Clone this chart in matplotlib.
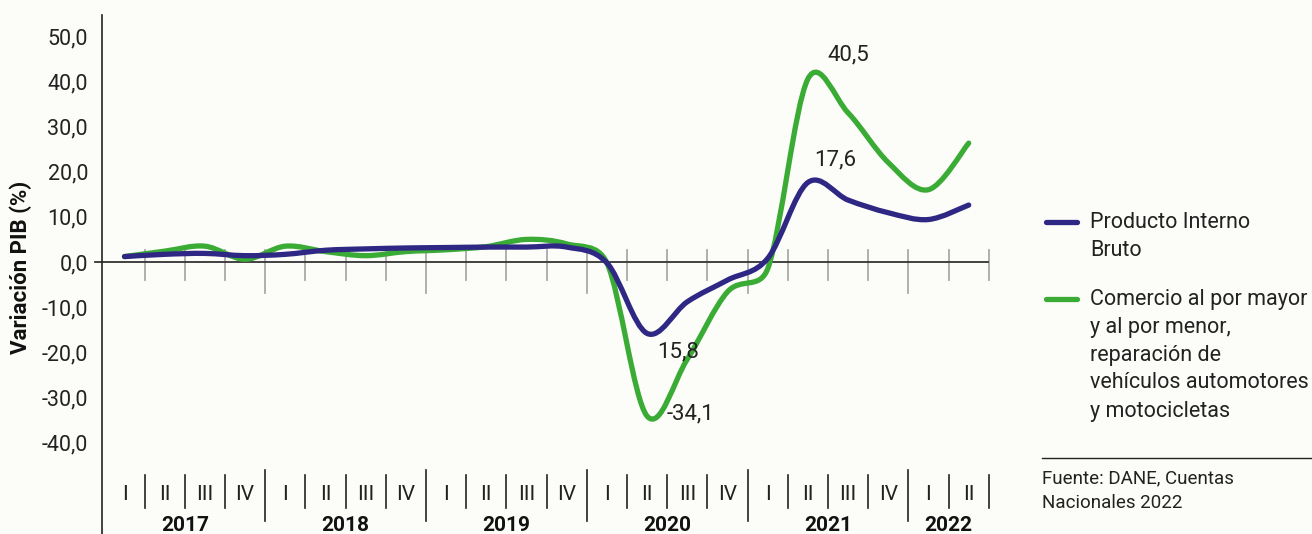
import numpy as np
import matplotlib.pyplot as plt
from matplotlib.path import Path
from matplotlib.patches import PathPatch
from matplotlib.lines import Line2D

plt.rcParams['font.family'] = ['Roboto', 'DejaVu Sans']

# --- DATOS ---
trimestres = ['I', 'II', 'III', 'IV'] * 5 + ['I', 'II']
anios = ['2017', '2018', '2019', '2020', '2021', '2022']
trim_por_anio = [4, 4, 4, 4, 4, 2]

# Variación anual (%) - Producto Interno Bruto
pib = [1.2, 1.7, 1.9, 1.4, 1.7, 2.6, 2.9, 3.1, 3.2, 3.3, 3.3, 3.3,
       -0.2, -15.8, -8.8, -4.0, 0.8, 17.6, 13.7, 10.9, 9.4, 12.6]
# Variación anual (%) - Comercio, reparación de vehículos
comercio = [1.2, 2.4, 3.5, 0.6, 3.5, 2.3, 1.4, 2.3, 2.7, 3.4, 5.0, 4.0,
            -0.2, -34.1, -21.5, -6.6, -1.5, 40.5, 33.0, 22.0, 16.0, 26.3]

etiquetas = [  # (serie, indice, texto, offset en puntos)
    ('comercio', 17, '40,5', (29, 17)),
    ('pib', 17, '17,6', (20, 16)),
    ('pib', 13, '15,8', (22, -13.5)),
    ('comercio', 13, '-34,1', (31, 1.5)),
]

AZUL = '#2e2784'
VERDE = '#3aab35'
FONDO = '#fcfcf8'
W, H = 1312, 534


def fx(px):
    return px / W


def fy(py):
    return 1 - py / H


def curva_suave(ax, x, y, color, lw, z):
    # linea suavizada al estilo Excel: Bezier con brazos (P2-P0)/6,
    # limitados a la mitad del segmento (medido en pixeles)
    pts = np.column_stack([x, y]).astype(float)
    ext = np.vstack([pts[0], pts, pts[-1]])
    disp = ax.transData.transform(ext)
    verts = [pts[0]]
    codes = [Path.MOVETO]
    for i in range(1, len(ext) - 2):
        p0, p1, p2, p3 = ext[i - 1], ext[i], ext[i + 1], ext[i + 2]
        d0, d1, d2, d3 = disp[i - 1], disp[i], disp[i + 1], disp[i + 2]
        d12 = np.hypot(*(d2 - d1))
        d02 = np.hypot(*(d2 - d0))
        d13 = np.hypot(*(d3 - d1))
        f1 = 1 / 6 if d02 / 6 < d12 / 2 else d12 / (2 * d02)
        f2 = 1 / 6 if d13 / 6 < d12 / 2 else d12 / (2 * d13)
        verts += [p1 + (p2 - p0) * f1, p2 - (p3 - p1) * f2, p2]
        codes += [Path.CURVE4] * 3
    ax.add_patch(PathPatch(Path(verts, codes), fill=False, edgecolor=color,
                           lw=lw, capstyle='round', joinstyle='round', zorder=z))


fig = plt.figure(figsize=(W / 100, H / 100), dpi=100, facecolor=FONDO)
ax = fig.add_axes([fx(102), 0, fx(990) - fx(102), fy(15)])
ax.set_facecolor(FONDO)

x = np.arange(len(pib))
ax.set_xlim((102 - 124.5) / 40.2, (990 - 124.5) / 40.2)
ax.set_ylim((262 - 534) / 4.52, (262 - 15) / 4.52)

for s in ['top', 'right', 'bottom']:
    ax.spines[s].set_visible(False)
ax.spines['left'].set_color('#222222')
ax.spines['left'].set_linewidth(1.2)

ax.set_xticks([])
ax.set_yticks(range(-40, 51, 10))
ax.set_yticklabels([f'{v:.1f}'.replace('.', ',') for v in range(-40, 51, 10)])
ax.tick_params(axis='y', length=0, pad=10, labelsize=15.5, labelcolor='#222222')

# línea del cero y marcas de trimestre
ax.plot([-0.73, 21.48], [0, 0], color='#333333', lw=1.3, clip_on=False, zorder=2)
limites_anio = np.cumsum(trim_por_anio)[:-1] - 0.5
for k in range(len(pib)):
    b = k + 0.5
    largo = b in limites_anio
    ax.plot([b, b], [2.6, -6.8 if largo else -4.0], color='#aaaaaa', lw=1.3, zorder=1)
    ax.plot([b, b], [-46.0, -57.3] if largo else [-47.2, -54.4],
            color='#222222', lw=1.2, clip_on=False)

# etiquetas de trimestre y año
for i, t in enumerate(trimestres):
    ax.text(i, -51.4, t, ha='center', va='center', fontsize=15,
            color='#222222')
inicio = 0
for a, n in zip(anios, trim_por_anio):
    ax.text(inicio + (n - 1) / 2, -58.3, a, ha='center', va='center',
            fontsize=15, fontweight='bold', color='#111111', clip_on=False)
    inicio += n

curva_suave(ax, x, comercio, VERDE, 3.8, 3)
curva_suave(ax, x, pib, AZUL, 3.8, 4)

series = {'pib': pib, 'comercio': comercio}
for serie, i, txt, off in etiquetas:
    ax.annotate(txt, (i, series[serie][i]), xytext=off, textcoords='offset points',
                ha='center', va='center', fontsize=16, color='#222222', zorder=5)

fig.text(fx(21), fy(267), 'Variación PIB (%)', rotation=90, fontweight='bold',
         fontsize=16, ha='center', va='center', color='#111111')

# leyenda manual
leyenda = [
    (AZUL, ['Producto Interno', 'Bruto'], 222),
    (VERDE, ['Comercio al por mayor', 'y al por menor,', 'reparación de',
             'vehículos automotores', 'y motocicletas'], 299),
]
for color, lineas, y0 in leyenda:
    fig.add_artist(Line2D([fx(1046), fx(1077)], [fy(y0), fy(y0)], color=color,
                          lw=3.8, solid_capstyle='round'))
    for j, linea in enumerate(lineas):
        fig.text(fx(1090), fy(y0 + j * 28), linea, ha='left', va='center',
                 fontsize=15.5, color='#222222')

fig.add_artist(Line2D([fx(1042), fx(1312)], [fy(458), fy(458)], color='#222222', lw=1))
for j, linea in enumerate(['Fuente: DANE, Cuentas', 'Nacionales 2022']):
    fig.text(fx(1042), fy(478 + j * 25), linea, ha='left', va='center',
             fontsize=13.5, color='#222222')

fig.savefig('out.png', dpi=100, facecolor=FONDO)
